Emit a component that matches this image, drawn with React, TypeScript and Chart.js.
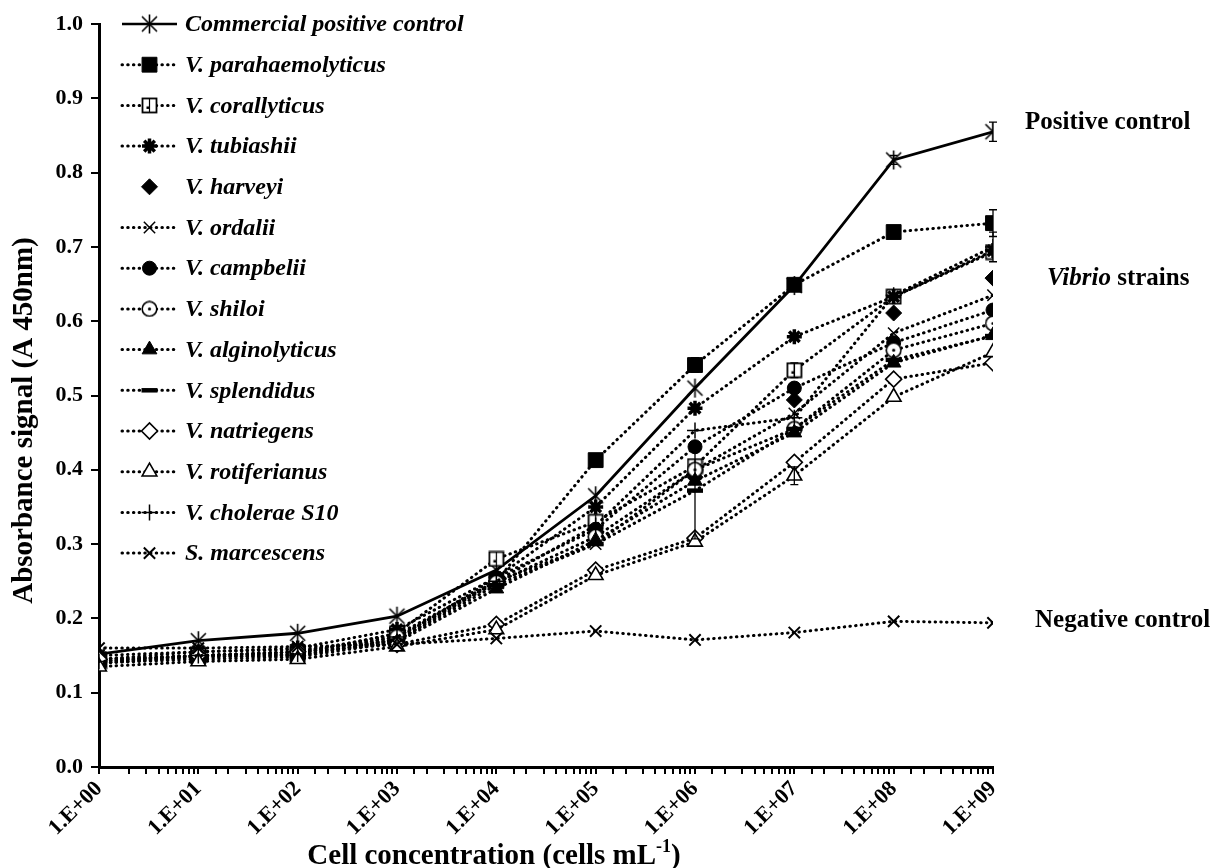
import React, { useEffect, useRef } from 'react';
import { Chart, registerables } from 'chart.js';
import { drawPoint } from 'chart.js/helpers';

Chart.register(...registerables);

// ---------- data ----------
const concentrations = [1, 1e1, 1e2, 1e3, 1e4, 1e5, 1e6, 1e7, 1e8, 1e9];
const tickLabels = ['1.E+00', '1.E+01', '1.E+02', '1.E+03', '1.E+04', '1.E+05', '1.E+06', '1.E+07', '1.E+08', '1.E+09'];

const seriesNames = [
  'Commercial positive control',
  'V. parahaemolyticus',
  'V. corallyticus',
  'V. tubiashii',
  'V. harveyi',
  'V. ordalii',
  'V. campbelii',
  'V. shiloi',
  'V. alginolyticus',
  'V. splendidus',
  'V. natriegens',
  'V. rotiferianus',
  'V. cholerae S10',
  'S. marcescens',
];

const positiveControl = [0.152, 0.170, 0.180, 0.203, 0.265, 0.365, 0.510, 0.648, 0.817, 0.855];
const parahaemolyticus = [0.145, 0.150, 0.155, 0.178, 0.250, 0.413, 0.541, 0.649, 0.720, 0.732];
const corallyticus = [0.142, 0.150, 0.152, 0.180, 0.280, 0.330, 0.405, 0.534, 0.633, 0.693];
const tubiashii = [0.145, 0.155, 0.160, 0.185, 0.255, 0.350, 0.483, 0.579, 0.633, 0.695];
const harveyi = [0.140, 0.150, 0.150, 0.175, 0.245, 0.315, 0.390, 0.494, 0.611, 0.658];
const ordalii = [0.150, 0.155, 0.158, 0.170, 0.250, 0.300, 0.400, 0.476, 0.584, 0.635];
const campbelii = [0.140, 0.148, 0.150, 0.172, 0.255, 0.320, 0.431, 0.510, 0.571, 0.615];
const shiloi = [0.143, 0.150, 0.155, 0.175, 0.248, 0.310, 0.400, 0.455, 0.561, 0.597];
const alginolyticus = [0.140, 0.145, 0.148, 0.168, 0.240, 0.305, 0.385, 0.450, 0.544, 0.581];
const splendidus = [0.140, 0.148, 0.150, 0.170, 0.245, 0.300, 0.372, 0.455, 0.548, 0.580];
const natriegens = [0.145, 0.150, 0.155, 0.165, 0.192, 0.265, 0.308, 0.410, 0.522, 0.544];
const rotiferianus = [0.135, 0.142, 0.145, 0.162, 0.185, 0.258, 0.303, 0.392, 0.498, 0.558];
const choleraeS10 = [0.142, 0.150, 0.152, 0.175, 0.250, 0.325, 0.453, 0.470, 0.635, 0.700];
const marcescens = [0.160, 0.160, 0.162, 0.165, 0.173, 0.183, 0.171, 0.181, 0.196, 0.194];

const seriesValues = [
  positiveControl, parahaemolyticus, corallyticus, tubiashii, harveyi, ordalii, campbelii,
  shiloi, alginolyticus, splendidus, natriegens, rotiferianus, choleraeS10, marcescens,
];

// visible standard-deviation bars: [series index, point index, error]
const errorBars: [number, number, number][] = [
  [0, 9, 0.013],
  [0, 8, 0.006],
  [1, 9, 0.018],
  [12, 9, 0.02],
  [9, 6, 0.065],
  [2, 7, 0.01],
  [11, 7, 0.012],
  [1, 6, 0.01],
];

const yTicks = [0, 0.1, 0.2, 0.3, 0.4, 0.5, 0.6, 0.7, 0.8, 0.9, 1.0];

// ---------- styles ----------
const SERIF = "'Liberation Serif', 'Times New Roman', Times, serif";
const DOT_DASH = [0.5, 5.2];

function makeMarker(size: number, draw: (ctx: CanvasRenderingContext2D, s: number) => void) {
  const c = document.createElement('canvas');
  c.width = size;
  c.height = size;
  const ctx = c.getContext('2d') as CanvasRenderingContext2D;
  draw(ctx, size);
  return c;
}

const asteriskMarker = makeMarker(21, (ctx, s) => {
  ctx.strokeStyle = '#000';
  ctx.lineWidth = 1.6;
  const m = s / 2;
  ctx.beginPath();
  ctx.moveTo(m, 1); ctx.lineTo(m, s - 1);
  ctx.moveTo(3, 3); ctx.lineTo(s - 3, s - 3);
  ctx.moveTo(s - 3, 3); ctx.lineTo(3, s - 3);
  ctx.stroke();
});

const squareDotMarker = makeMarker(17, (ctx, s) => {
  ctx.fillStyle = '#fff';
  ctx.fillRect(1, 1, s - 2, s - 2);
  ctx.strokeStyle = '#000';
  ctx.lineWidth = 1.8;
  ctx.strokeRect(1.5, 1.5, s - 3, s - 3);
  ctx.lineWidth = 1.2;
  ctx.beginPath();
  ctx.moveTo(s / 2, 2); ctx.lineTo(s / 2, s - 2);
  ctx.stroke();
  ctx.fillStyle = '#000';
  ctx.fillRect(s / 2 - 3, s / 2 + 1, 2.5, 2.5);
});

const circleDotMarker = makeMarker(17, (ctx, s) => {
  ctx.fillStyle = '#fff';
  ctx.beginPath();
  ctx.arc(s / 2, s / 2, s / 2 - 1.2, 0, Math.PI * 2);
  ctx.fill();
  ctx.strokeStyle = '#000';
  ctx.lineWidth = 1.6;
  ctx.stroke();
  ctx.fillStyle = '#000';
  ctx.beginPath();
  ctx.arc(s / 2, s / 2, 1.6, 0, Math.PI * 2);
  ctx.fill();
});

type Style = { pointStyle: any; radius: number; fill: string; bw: number; solid?: boolean; noLine?: boolean };
const styles: Style[] = [
  { pointStyle: asteriskMarker, radius: 10, fill: '#000', bw: 1.5, solid: true },
  { pointStyle: 'rect', radius: 10.5, fill: '#000', bw: 1 },
  { pointStyle: squareDotMarker, radius: 9, fill: '#fff', bw: 1.8 },
  { pointStyle: 'star', radius: 7.5, fill: '#000', bw: 3.5 },
  { pointStyle: 'rectRot', radius: 8, fill: '#000', bw: 1, noLine: true },
  { pointStyle: 'crossRot', radius: 8, fill: '#000', bw: 1.5 },
  { pointStyle: 'circle', radius: 7, fill: '#000', bw: 1 },
  { pointStyle: circleDotMarker, radius: 8, fill: '#fff', bw: 1.6 },
  { pointStyle: 'triangle', radius: 8.5, fill: '#000', bw: 1 },
  { pointStyle: 'line', radius: 8, fill: '#000', bw: 4.5 },
  { pointStyle: 'rectRot', radius: 8, fill: '#fff', bw: 1.6 },
  { pointStyle: 'triangle', radius: 8.5, fill: '#fff', bw: 1.6 },
  { pointStyle: 'cross', radius: 8, fill: '#000', bw: 1.5 },
  { pointStyle: 'crossRot', radius: 8, fill: '#000', bw: 2 },
];

const LEGEND_ROW = 40.7;

const errorBarPlugin = {
  id: 'errorBars',
  afterDatasetsDraw(chart: any) {
    const ctx: CanvasRenderingContext2D = chart.ctx;
    const xs = chart.scales.x;
    const ys = chart.scales.y;
    ctx.save();
    ctx.strokeStyle = '#000';
    ctx.lineWidth = 1.3;
    ctx.setLineDash([]);
    errorBars.forEach(([si, pi, err]) => {
      const v = seriesValues[si][pi];
      const x = xs.getPixelForValue(concentrations[pi]);
      const y1 = ys.getPixelForValue(v + err);
      const y2 = ys.getPixelForValue(v - err);
      ctx.beginPath();
      ctx.moveTo(x, y1); ctx.lineTo(x, y2);
      ctx.moveTo(x - 4, y1); ctx.lineTo(x + 4, y1);
      ctx.moveTo(x - 4, y2); ctx.lineTo(x + 4, y2);
      ctx.stroke();
    });
    ctx.restore();
  },
};

const overlayPlugin = {
  id: 'overlay',
  afterDraw(chart: any) {
    const ctx: CanvasRenderingContext2D = chart.ctx;
    const area = chart.chartArea;
    const yScale = chart.scales.y;
    ctx.save();

    // legend
    const lx0 = area.left + 23;
    const lx1 = area.left + 78;
    const lmx = (lx0 + lx1) / 2;
    seriesNames.forEach((name, i) => {
      const st = styles[i];
      const y = area.top + i * LEGEND_ROW;
      if (!st.noLine) {
        ctx.beginPath();
        ctx.strokeStyle = '#000';
        if (st.solid) {
          ctx.setLineDash([]);
          ctx.lineWidth = 2.5;
          ctx.lineCap = 'butt';
        } else {
          ctx.setLineDash(DOT_DASH);
          ctx.lineWidth = 3;
          ctx.lineCap = 'round';
        }
        ctx.moveTo(lx0, y);
        ctx.lineTo(lx1, y);
        ctx.stroke();
      }
      ctx.setLineDash([]);
      ctx.lineCap = 'butt';
      ctx.fillStyle = st.fill;
      ctx.strokeStyle = '#000';
      ctx.lineWidth = st.bw;
      drawPoint(ctx, { pointStyle: st.pointStyle, radius: st.radius, rotation: 0, borderWidth: st.bw } as any, lmx, y);
      ctx.fillStyle = '#000';
      ctx.font = `italic bold 24px ${SERIF}`;
      ctx.textBaseline = 'middle';
      ctx.textAlign = 'left';
      ctx.fillText(name, lx1 + 8, y + 1);
    });

    // y title
    ctx.save();
    ctx.translate(25, (area.top + area.bottom) / 2 + 25);
    ctx.rotate(-Math.PI / 2);
    ctx.font = `bold 29px ${SERIF}`;
    ctx.textAlign = 'center';
    ctx.textBaseline = 'middle';
    ctx.fillStyle = '#000';
    ctx.fillText('Absorbance signal (A 450nm)', 0, 0);
    ctx.restore();

    // x title with superscript
    const main = 'Cell concentration (cells mL';
    const sup = '-1';
    const close = ')';
    const bigFont = `bold 29px ${SERIF}`;
    const smallFont = `bold 18px ${SERIF}`;
    ctx.font = bigFont;
    const wMain = ctx.measureText(main).width;
    const wClose = ctx.measureText(close).width;
    ctx.font = smallFont;
    const wSup = ctx.measureText(sup).width;
    const total = wMain + wSup + wClose;
    const cx = (area.left + area.right) / 2 - 52;
    const by = 864;
    let x = cx - total / 2;
    ctx.textAlign = 'left';
    ctx.textBaseline = 'alphabetic';
    ctx.font = bigFont;
    ctx.fillText(main, x, by);
    x += wMain;
    ctx.font = smallFont;
    ctx.fillText(sup, x, by - 12);
    x += wSup;
    ctx.font = bigFont;
    ctx.fillText(close, x, by);

    // right annotations
    ctx.textBaseline = 'middle';
    ctx.font = `bold 25px ${SERIF}`;
    ctx.fillText('Positive control', area.right + 32, yScale.getPixelForValue(0.868));
    const vy = yScale.getPixelForValue(0.657);
    ctx.font = `italic bold 25px ${SERIF}`;
    const vibrio = 'Vibrio';
    ctx.fillText(vibrio, area.right + 54, vy);
    const wv = ctx.measureText(vibrio + ' ').width;
    ctx.font = `bold 25px ${SERIF}`;
    ctx.fillText('strains', area.right + 54 + wv, vy);
    ctx.fillText('Negative control', area.right + 42, yScale.getPixelForValue(0.197));

    ctx.restore();
  },
};

export default function App() {
  const ref = useRef<HTMLCanvasElement>(null);

  useEffect(() => {
    const datasets = seriesNames.map((name, i) => {
      const st = styles[i];
      return {
        label: name,
        data: concentrations.map((c, j) => ({ x: c, y: seriesValues[i][j] })),
        borderColor: '#000',
        backgroundColor: '#000',
        borderWidth: st.solid ? 2.8 : 3,
        borderDash: st.solid ? [] : DOT_DASH,
        borderCapStyle: st.solid ? 'butt' : 'round',
        showLine: !st.noLine,
        tension: 0,
        pointStyle: st.pointStyle,
        pointRadius: st.radius,
        pointBackgroundColor: st.fill,
        pointBorderColor: '#000',
        pointBorderWidth: st.bw,
        order: seriesNames.length - i,
      };
    });

    const chart = new Chart(ref.current as HTMLCanvasElement, {
      type: 'line',
      data: { datasets } as any,
      plugins: [errorBarPlugin, overlayPlugin],
      options: {
        animation: false,
        responsive: false,
        layout: { padding: { left: 0, right: 224, top: 24, bottom: 0 } },
        plugins: {
          legend: { display: false },
          tooltip: { enabled: false },
          title: { display: false },
        },
        scales: {
          x: {
            type: 'logarithmic',
            min: 1,
            max: 1e9,
            position: 'bottom',
            afterFit: (s: any) => { s.height = 101; },
            border: { display: true, color: '#000', width: 3 },
            grid: { drawOnChartArea: false, drawTicks: true, tickLength: 7, color: '#000', lineWidth: 2 },
            ticks: {
              autoSkip: false,
              maxRotation: 45,
              minRotation: 45,
              padding: 2,
              color: '#000',
              font: { family: SERIF, size: 22, weight: 'bold' },
              callback: (v: any) => {
                const e = Math.log10(Number(v));
                const r = Math.round(e);
                if (Math.abs(e - r) < 1e-9 && r >= 0 && r < tickLabels.length) return tickLabels[r];
                return '';
              },
            },
          },
          y: {
            min: 0,
            max: 1,
            afterFit: (s: any) => { s.width = 99; },
            afterBuildTicks: (s: any) => { s.ticks = yTicks.map((v) => ({ value: v })); },
            border: { display: true, color: '#000', width: 3 },
            grid: { drawOnChartArea: false, drawTicks: true, tickLength: 8, color: '#000', lineWidth: 2 },
            ticks: {
              padding: 8,
              color: '#000',
              font: { family: SERIF, size: 22, weight: 'bold' },
              callback: (v: any) => Number(v).toFixed(1),
            },
          },
        },
      } as any,
    });
    return () => chart.destroy();
  }, []);

  return (
    <div style={{ position: 'fixed', left: 0, top: 0, width: 1217, height: 868, background: '#fff' }}>
      <canvas ref={ref} width={1217} height={868} style={{ width: 1217, height: 868, display: 'block' }} />
    </div>
  );
}
